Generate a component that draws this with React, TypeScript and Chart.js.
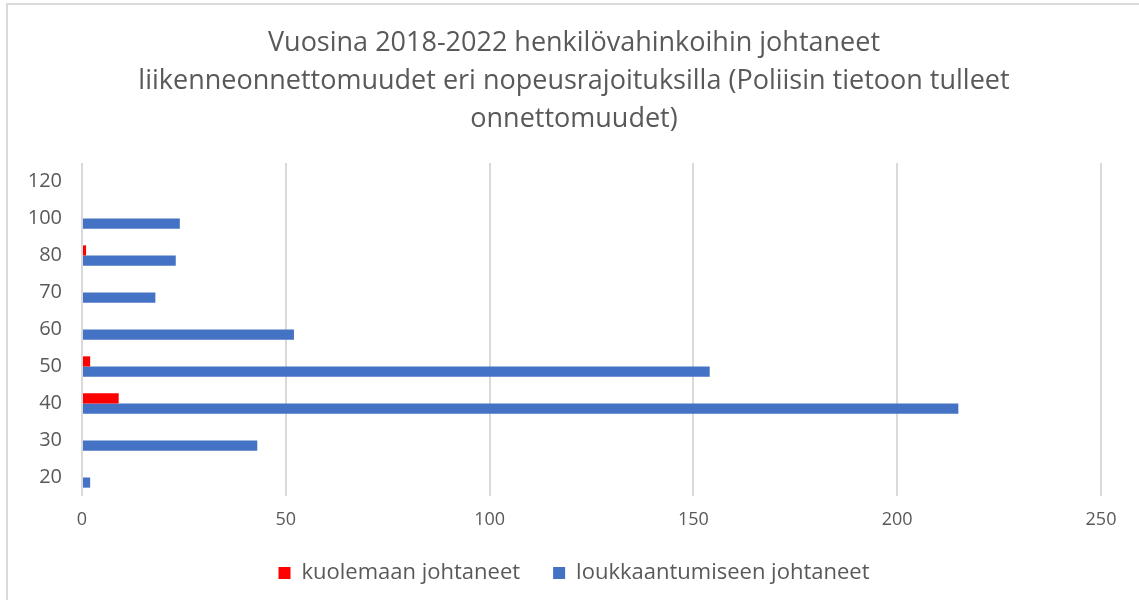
import React, { useEffect, useRef } from "react";
import { Chart, registerables } from "chart.js";

Chart.register(...registerables);

const titleLines = [
  "Vuosina 2018-2022 henkilövahinkoihin johtaneet",
  "liikenneonnettomuudet eri nopeusrajoituksilla (Poliisin tietoon tulleet",
  "onnettomuudet)",
];
const speedLimits = ["120", "100", "80", "70", "60", "50", "40", "30", "20"];
const fatalities = [0, 0, 1, 0, 0, 2, 9, 0, 0];
const injuries = [0, 24, 23, 18, 52, 154, 215, 43, 2];
const seriesNames = ["kuolemaan johtaneet", "loukkaantumiseen johtaneet"];
const xTicks = [0, 50, 100, 150, 200, 250];

const FONT = "'Open Sans', 'Noto Sans', sans-serif";
const TEXT = "#595959";

export default function App() {
  const ref = useRef<HTMLCanvasElement | null>(null);
  useEffect(() => {
    if (!ref.current) return;
    const chart = new Chart(ref.current, {
      type: "bar",
      data: {
        labels: speedLimits,
        datasets: [
          {
            label: seriesNames[0],
            data: fatalities,
            backgroundColor: "#ff0000",
            categoryPercentage: 0.55,
            barPercentage: 1,
          },
          {
            label: seriesNames[1],
            data: injuries,
            backgroundColor: "#4472c4",
            categoryPercentage: 0.55,
            barPercentage: 1,
          },
        ],
      },
      options: {
        indexAxis: "y",
        animation: false,
        responsive: false,
        maintainAspectRatio: false,
        layout: { padding: { left: 28, right: 19, top: 6, bottom: 6 } },
        plugins: {
          title: {
            display: true,
            text: titleLines,
            color: TEXT,
            font: { family: FONT, size: 27, weight: "normal", lineHeight: 38 / 27 },
            padding: { top: 18, bottom: 25 },
          },
          legend: {
            position: "bottom",
            labels: {
              color: TEXT,
              font: { family: FONT, size: 22 },
              boxWidth: 12,
              boxHeight: 12,
              padding: 33,
            },
          },
          tooltip: { enabled: false },
        },
        scales: {
          x: {
            min: 0,
            max: 250,
            afterBuildTicks: (axis: any) => {
              axis.ticks = xTicks.map((v) => ({ value: v }));
            },
            afterFit: (scale: any) => {
              scale.height = 33;
            },
            grid: { color: "#d9d9d9", lineWidth: 2, drawTicks: false },
            border: { display: false },
            ticks: { color: TEXT, font: { family: FONT, size: 18, lineHeight: 1 }, padding: 15 },
          },
          y: {
            afterFit: (scale: any) => {
              scale.width = 54;
            },
            grid: { display: false, drawTicks: false },
            border: { display: false },
            ticks: { color: TEXT, font: { family: FONT, size: 20 }, padding: 20 },
          },
          yRight: {
            type: "category",
            position: "right",
            labels: speedLimits,
            afterFit: (scale: any) => {
              scale.width = 19;
            },
            grid: { display: false, drawTicks: false },
            border: { display: false },
            ticks: { display: false },
          },
        },
      },
    });
    return () => chart.destroy();
  }, []);
  return (
    <div
      style={{
        position: "absolute",
        left: 0,
        top: 0,
        width: 1139,
        height: 600,
        background: "#fff",
        overflow: "hidden",
      }}
    >
      <div
        style={{
          position: "absolute",
          left: 6,
          top: 3,
          width: 1200,
          height: 700,
          border: "2px solid #d9d9d9",
          boxSizing: "border-box",
        }}
      />
      <canvas ref={ref} width={1139} height={600} style={{ position: "absolute", left: 0, top: 0 }} />
    </div>
  );
}
